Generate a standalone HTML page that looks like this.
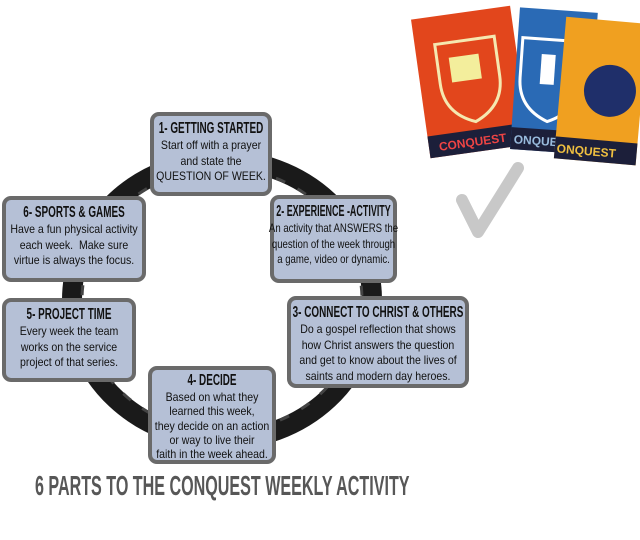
<!DOCTYPE html>
<html><head><style>
body{margin:0;width:640px;height:540px;background:#fff;position:relative;overflow:hidden;font-family:"Liberation Sans",sans-serif}
.b{position:absolute;background:#b5c0d6;border:4px solid #6a6a6a;border-radius:9px;box-sizing:border-box;text-align:center;color:#111;font-size:12px;line-height:15.5px;padding-top:3px}
.b div{display:flex;justify-content:center;white-space:nowrap;transform:scaleX(.88);transform-origin:50% 50%}
.b div.h{font-weight:bold;font-size:16px;line-height:19px;transform:scaleX(.62)}
.t{position:absolute;left:35px;top:470px;font-weight:bold;font-size:28px;color:#575757;white-space:nowrap;transform:scaleX(.575);transform-origin:0 0}
</style></head><body>
<svg width="640" height="540" style="position:absolute;left:0;top:0">
<ellipse cx="222" cy="300" rx="150" ry="140" fill="none" stroke="#1a1a1a" stroke-width="20"/>
<ellipse cx="222" cy="300" rx="140" ry="132" fill="none" stroke="#444" stroke-width="3" stroke-dasharray="10 14"/>
<g transform="rotate(-8 470 80)"><rect x="420" y="12" width="100" height="140" fill="#e2461c"/><rect x="420" y="130" width="100" height="22" fill="#1c1f3a"/><path d="M440 40h60v40q0 30-30 42q-30-12-30-42z" fill="none" stroke="#f5e8b0" stroke-width="3"/><rect x="452" y="55" width="30" height="25" fill="#f3ee9c"/><text x="430" y="146" font-size="12" font-weight="bold" fill="#e44">CONQUEST</text></g>
<g transform="rotate(4 555 80)"><rect x="515" y="10" width="78" height="142" fill="#2a6ab5"/><rect x="515" y="130" width="78" height="22" fill="#1c1f3a"/><path d="M520 40h60v40q0 30-30 42q-30-12-30-42z" fill="none" stroke="#fff" stroke-width="3"/><rect x="540" y="55" width="14" height="30" fill="#fff"/><text x="518" y="146" font-size="12" font-weight="bold" fill="#9bd">ONQUEST</text></g>
<g transform="rotate(5 600 90)"><rect x="560" y="20" width="82" height="142" fill="#f0a020"/><rect x="560" y="140" width="82" height="22" fill="#1c1f3a"/><circle cx="610" cy="90" r="26" fill="#1f2f6a"/><text x="562" y="156" font-size="12" font-weight="bold" fill="#f0c040">ONQUEST</text></g>
<path d="M462 200 L478 232 L518 168" fill="none" stroke="#c8c8c8" stroke-width="12" stroke-linecap="round" stroke-linejoin="round"/>
</svg>
<div class="b" style="left:150px;top:112px;width:122px;height:84px"><div class="h">1- GETTING STARTED</div><div>Start off with a prayer</div><div>and state the</div><div>QUESTION OF WEEK.</div></div>
<div class="b" style="left:2px;top:196px;width:144px;height:86px"><div class="h">6- SPORTS &amp; GAMES</div><div>Have a fun physical activity</div><div>each week.&nbsp; Make sure</div><div>virtue is always the focus.</div></div>
<div class="b" style="left:270px;top:195px;width:127px;height:88px"><div class="h" style="transform:scaleX(.56)">2- EXPERIENCE -ACTIVITY</div><div style="transform:scaleX(.8)">An activity that ANSWERS the</div><div style="transform:scaleX(.8)">question of the week through</div><div style="transform:scaleX(.8)">a game, video or dynamic.</div></div>
<div class="b" style="left:2px;top:298px;width:134px;height:84px"><div class="h">5- PROJECT TIME</div><div>Every week the team</div><div>works on the service</div><div>project of that series.</div></div>
<div class="b" style="left:287px;top:296px;width:182px;height:92px"><div class="h">3- CONNECT TO CHRIST &amp; OTHERS</div><div>Do a gospel reflection that shows</div><div>how Christ answers the question</div><div>and get to know about the lives of</div><div>saints and modern day heroes.</div></div>
<div class="b" style="left:148px;top:366px;width:128px;height:98px;line-height:14.3px;padding-top:2px"><div class="h" style="line-height:18px">4- DECIDE</div><div>Based on what they</div><div>learned this week,</div><div>they decide on an action</div><div>or way to live their</div><div>faith in the week ahead.</div></div>
<div class="t">6 PARTS TO THE CONQUEST WEEKLY ACTIVITY</div>
</body></html>
